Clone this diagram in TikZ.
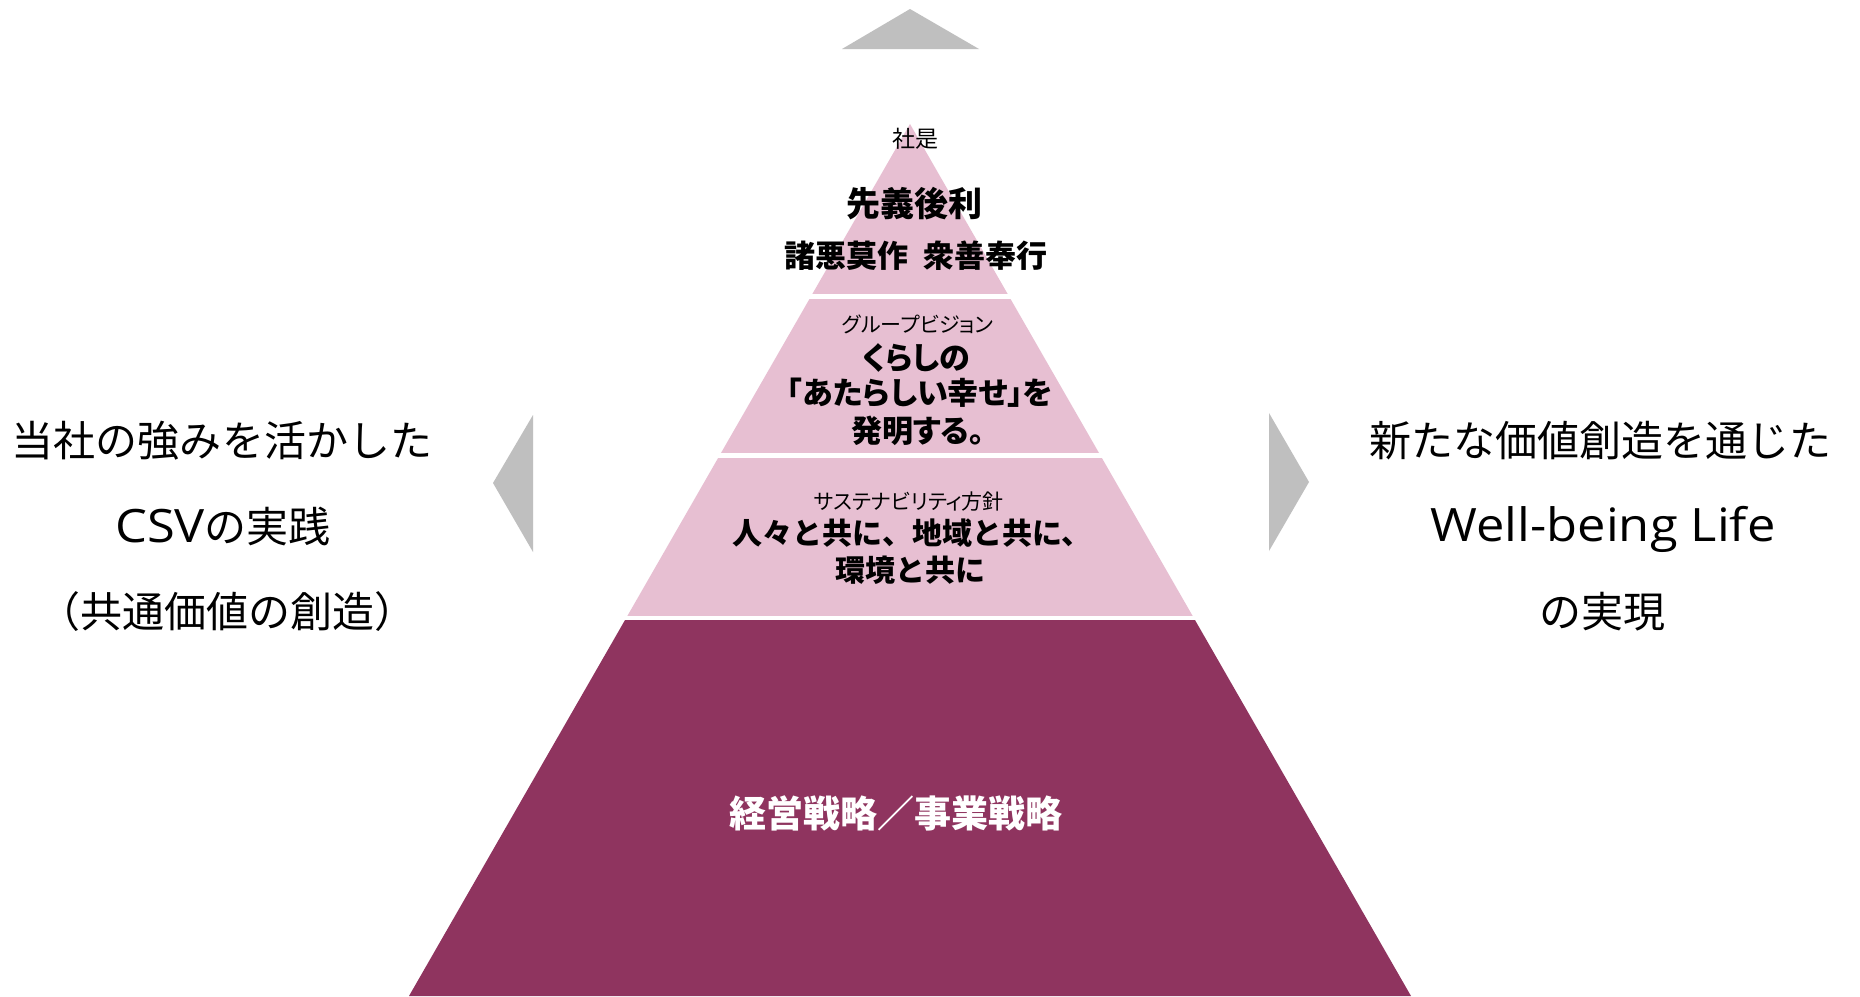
\documentclass[tikz,border=0pt]{standalone}
\usepackage{fontspec}
\setmainfont{Noto Sans CJK JP}
\newfontfamily\jpp{Noto Sans CJK JP}[RawFeature=+palt]
\newfontfamily\latw{Open Sans}[FakeStretch=1.1]
\definecolor{pinkc}{HTML}{E7BFD2}
\definecolor{darkc}{HTML}{8F345F}
\definecolor{grayc}{HTML}{BFBFBF}
\begin{document}
\begin{tikzpicture}[x=1pt,y=-1pt,
  sidetext/.style={font=\fontsize{42}{50}\selectfont, inner sep=0pt, text=black},
  smalllabel/.style={font=\jpp\fontsize{21}{26}\selectfont, inner sep=0pt, text=black},
  boldline/.style={font=\jpp\bfseries\fontsize{31}{37}\selectfont, inner sep=0pt, text=black},
  susline/.style={font=\bfseries\fontsize{30}{36}\selectfont, inner sep=0pt, text=black},
  pointer/.style={fill=grayc, draw=none}]
\useasboundingbox (0,0) rectangle (1860,996);
\fill[white] (0,0) rectangle (1860,996);

% pyramid
\begin{scope}
\clip (910,124) -- (1411,996) -- (409,996) -- cycle;
\fill[pinkc] (300,100) rectangle (1500,294);
\fill[pinkc] (300,299) rectangle (1500,453);
\fill[pinkc] (300,458) rectangle (1500,616);
\fill[darkc] (300,620) rectangle (1500,1000);
\end{scope}

% grey pointers
\fill[pointer] (842,49) -- (910,9) -- (979,49) -- cycle;
\fill[pointer] (533,415) -- (493,483) -- (533,552) -- cycle;
\fill[pointer] (1269,413) -- (1309,482) -- (1269,551) -- cycle;

% top section
\node[smalllabel, font=\jpp\fontsize{23}{27}\selectfont] (shaze) at (915,139) {社是};
\node[font=\bfseries\fontsize{34}{40}\selectfont, inner sep=0pt] (motto1) at (914,204) {先義後利};
\node[font=\bfseries\fontsize{31}{37}\selectfont, inner sep=0pt] (motto2) at (916,256) {諸悪莫作\hspace{0.5em}衆善奉行};

% vision section
\node[smalllabel] (visionlabel) at (918,324) {グループビジョン};
\node[boldline] (vision1) at (916,358) {くらしの};
\node[boldline] (vision2) at (920,393) {「あたらしい幸せ」を};
\node[boldline] (vision3) at (918,431) {発明する。};

% sustainability section
\node[smalllabel] (suslabel) at (909,502) {サステナビリティ方針};
\node[susline] (sus1) at (912,533) {人々と共に、地域と共に、};
\node[susline] (sus2) at (910,570) {環境と共に};

% strategy section
\node[font=\bfseries\fontsize{37}{44}\selectfont, inner sep=0pt, text=white] (strategy) at (896,813) {経営戦略／事業戦略};

% left text
\node[sidetext] (left1) at (222,441) {当社の強みを活かした};
\node[sidetext, anchor=base] (left2) at (223,542) {{\latw\fontsize{46}{50}\selectfont CSV}の実践};
\node[sidetext] (left3) at (227,612) {（共通価値の創造）};

% right text
\node[sidetext] (right1) at (1600,441) {新たな価値創造を通じた};
\node[sidetext, anchor=base, font=\latw\fontsize{46}{50}\selectfont] (right2) at (1603,541) {Well-being Life};
\node[sidetext] (right3) at (1602,612) {の実現};
\end{tikzpicture}
\end{document}
